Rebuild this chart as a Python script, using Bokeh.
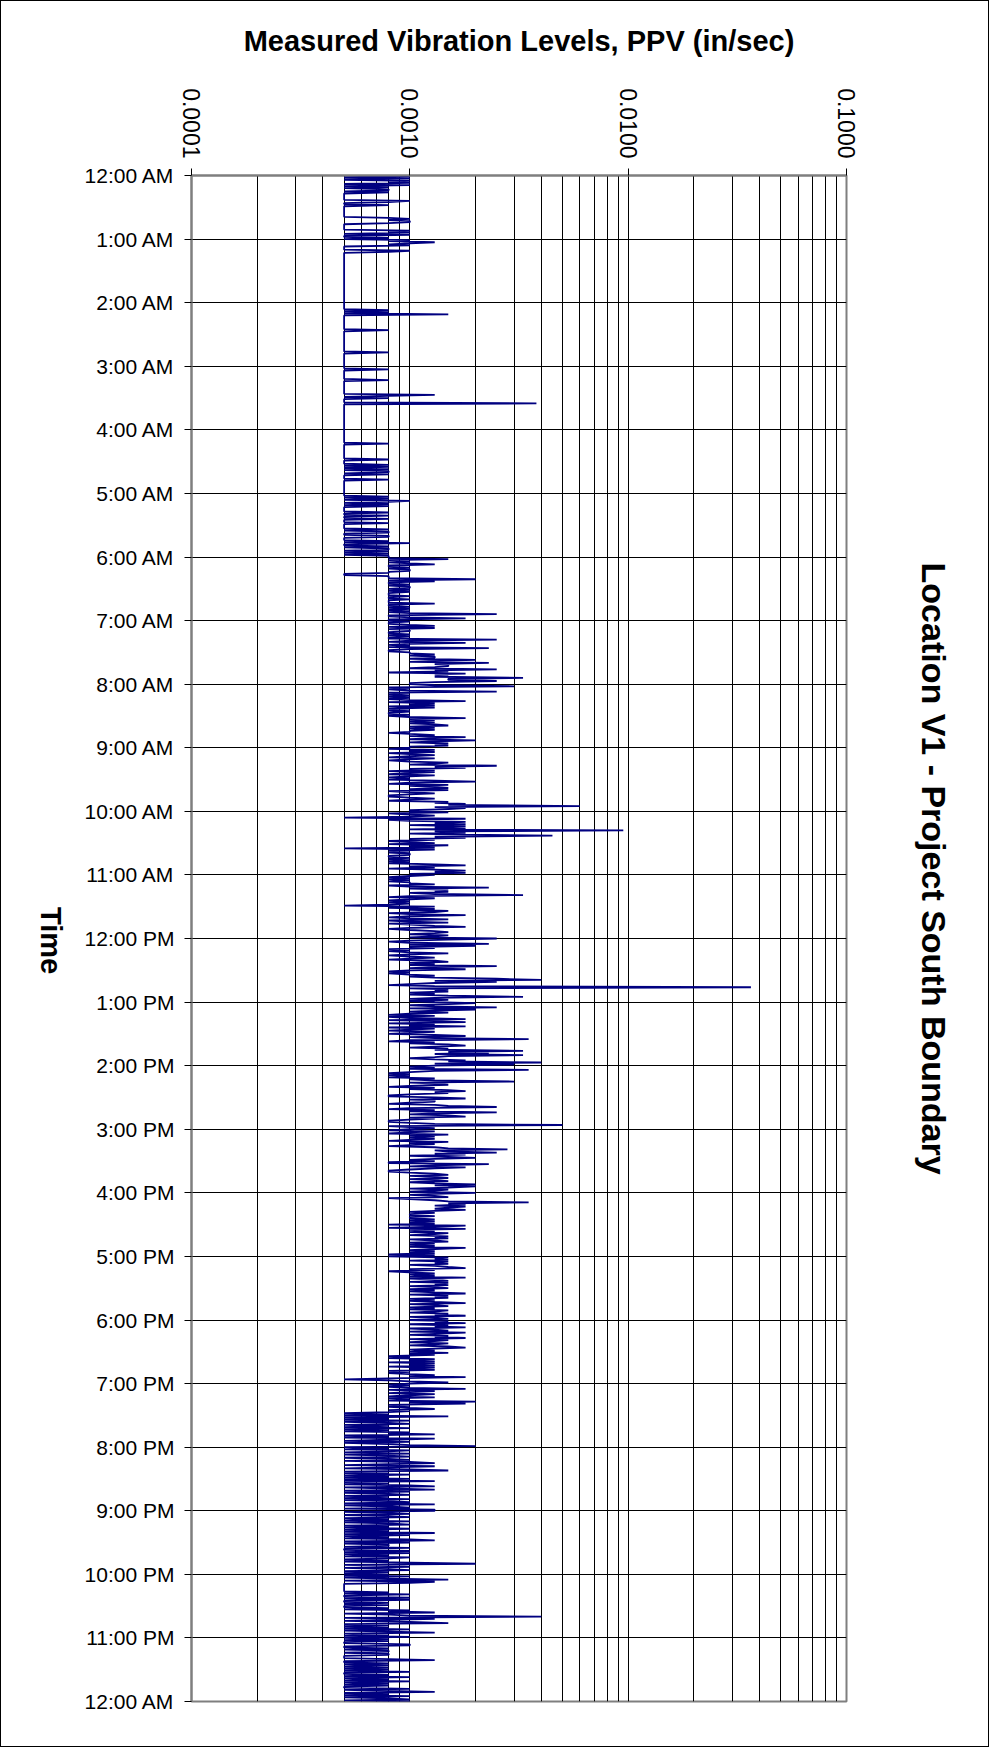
import math
import numpy as np
from bokeh.plotting import figure
from bokeh.layouts import row
from bokeh.models import Range1d, FixedTicker, NumeralTickFormatter, Label, ColumnDataSource, Grid
from bokeh.embed import file_html
from bokeh.resources import INLINE

# PPV readings, one per minute, in units of 0.0001 in/sec
h00 = [5,10,5,10,5,10,8,10,5,10,5,8,5,8,8,5,8,5,5,5,
       5,5,5,5,10,8,5,5,8,5,5,5,5,5,5,5,5,5,5,5,
       8,10,8,10,10,8,5,5,5,5,5,5,10,8,10,5,10,5,5,8]
h01 = [5,10,8,13,10,8,10,5,5,5,5,10,8,5,5,5,5,5,5,5,
       5,5,5,5,5,5,5,5,5,5,5,5,5,5,5,5,5,5,5,5,
       5,5,5,5,5,5,5,5,5,5,5,5,5,5,5,5,5,5,5,5]
h02 = [5,5,5,5,5,5,5,8,5,8,5,15,5,5,5,5,5,5,5,5,
       5,5,5,5,5,5,8,5,5,5,5,5,5,5,5,5,5,5,5,5,
       5,5,5,5,5,5,5,8,5,5,5,5,5,5,5,5,5,5,5,5]
h03 = [5,5,5,8,5,5,5,5,5,5,5,5,5,8,5,5,5,5,5,5,
       5,5,5,5,5,5,5,13,8,5,8,5,5,5,5,38,5,5,5,5,
       5,5,5,5,5,5,5,5,5,5,5,5,5,5,5,5,5,5,5,5]
h04 = [5,5,5,5,5,5,5,5,5,5,5,5,5,8,5,5,5,5,5,5,
       5,5,5,5,5,5,5,5,8,5,5,5,5,8,5,8,5,8,5,8,
       8,5,8,5,5,5,5,8,5,5,5,5,5,5,5,5,5,5,5,5]
h05 = [5,5,5,8,5,8,5,10,8,5,8,5,8,5,5,5,5,5,8,5,
       5,8,5,5,8,5,5,5,8,5,5,5,5,5,8,5,8,8,5,5,
       8,8,5,5,5,8,5,10,5,5,8,5,8,8,5,8,5,8,5,8]
h06 = [8,8,15,8,10,8,10,13,8,8,10,8,10,10,8,8,5,5,8,8,
       8,20,8,13,8,8,10,8,10,10,8,10,8,10,8,8,8,10,8,8,
       10,8,8,8,13,8,8,10,8,10,8,10,8,10,25,8,8,10,18,8]
h07 = [8,10,8,8,10,13,8,13,8,10,10,8,8,10,8,10,8,8,25,10,
       8,18,10,8,10,8,23,10,8,8,10,10,13,10,13,13,10,20,13,10,
       23,13,15,15,13,10,25,13,15,8,18,13,15,13,33,15,15,25,13,10]
h08 = [10,13,30,8,10,8,10,25,8,10,8,10,8,10,8,10,18,8,13,10,
       13,8,13,8,10,8,10,8,8,10,8,10,18,10,13,10,13,10,13,15,
       10,13,10,13,10,10,8,10,13,10,18,13,10,20,13,10,15,13,15,10]
h09 = [10,8,13,10,13,8,10,13,10,8,13,10,8,10,15,13,10,25,13,18,
       10,13,8,13,10,8,13,10,8,10,8,13,20,10,8,15,10,13,15,10,
       15,8,10,13,10,8,8,10,13,10,8,15,13,18,15,60,13,18,15,10]
h10 = [10,15,8,10,13,10,5,18,8,10,18,13,18,10,18,13,18,10,95,13,
       18,10,18,45,13,18,10,13,8,10,13,8,15,10,13,5,13,8,10,8,
       10,10,8,8,10,8,10,8,10,8,13,18,10,13,8,13,18,13,18,10]
h11 = [13,10,8,10,8,10,8,10,10,13,8,10,23,10,15,13,15,10,13,33,
       10,8,13,10,8,10,8,10,8,5,13,8,13,10,15,13,8,10,18,10,
       8,10,15,8,10,15,8,10,13,18,10,8,10,13,15,13,10,15,13,10]
h12 = [25,15,10,8,10,23,10,20,10,13,8,10,8,10,15,10,8,10,13,10,
       8,13,15,10,13,10,25,13,10,18,10,8,10,8,10,13,10,13,25,40,
       13,25,13,10,8,13,365,10,15,13,15,10,13,10,15,33,13,10,15,10]
h13 = [13,20,15,10,13,25,10,20,13,10,15,10,8,13,8,10,18,8,13,18,
       8,13,10,18,8,13,10,8,13,10,8,13,18,10,13,35,10,8,13,10,
       15,18,13,10,15,13,33,15,23,13,33,15,13,10,13,18,15,40,13,30]
h14 = [13,10,13,10,35,13,10,8,10,8,10,8,13,10,13,30,10,13,15,10,
       8,13,10,15,18,13,15,10,8,8,13,18,10,13,13,10,8,13,15,25,
       10,8,13,10,25,13,10,15,18,10,13,10,8,8,10,13,50,8,10,13]
h15 = [10,8,13,10,8,15,10,13,10,13,10,8,15,10,13,10,8,13,15,28,
       13,15,25,13,18,10,15,20,13,10,13,8,8,23,13,10,18,13,10,8,
       8,10,13,15,10,13,15,10,13,15,10,13,20,13,20,15,10,15,13,10]
h16 = [20,13,10,13,15,8,10,13,15,35,15,18,13,18,15,13,18,13,10,13,
       10,10,13,10,10,13,10,13,10,13,8,18,13,8,18,10,13,10,15,13,
       10,15,13,15,10,13,15,10,13,10,13,10,18,13,10,13,10,13,8,13]
h17 = [8,15,13,15,10,15,13,15,10,13,15,18,10,13,8,10,13,10,13,10,
       18,10,13,15,10,15,13,15,10,13,15,10,13,10,13,18,10,15,13,15,
       10,13,10,13,18,10,13,15,10,13,10,15,13,10,15,13,18,10,13,15]
h18 = [10,15,13,18,10,15,13,18,10,13,15,10,18,13,10,15,13,18,10,15,
       13,10,15,13,10,15,18,13,10,13,10,15,10,13,8,10,8,13,10,13,
       8,13,10,13,8,13,10,13,8,10,8,10,13,10,18,8,5,8,10,15]
h19 = [10,8,10,8,10,18,8,13,10,8,13,10,8,13,8,10,8,20,10,18,
       8,10,8,10,13,8,10,8,5,8,5,15,5,8,5,10,5,8,10,5,
       8,5,10,5,8,5,10,8,13,5,8,5,13,8,5,10,5,8,10,20]
h20 = [5,8,5,10,8,5,10,5,8,10,5,8,10,5,10,13,8,5,13,8,
       5,10,15,5,8,5,10,5,8,5,10,5,13,5,8,5,10,13,5,8,
       13,5,10,5,8,10,5,8,5,10,5,8,10,5,13,5,8,10,5,13]
h21 = [13,5,8,10,5,8,10,5,8,5,10,5,8,10,5,8,5,10,5,8,
       5,13,5,10,5,8,5,10,13,5,10,5,8,8,5,10,5,5,10,5,
       10,5,8,5,10,8,5,8,5,10,20,5,8,10,5,8,10,5,8,5]
h22 = [8,5,10,5,8,15,5,13,10,5,5,5,5,5,5,5,5,8,5,10,
       5,5,10,5,10,5,5,8,5,8,5,5,8,5,10,8,13,5,8,10,
       40,5,13,8,5,10,15,5,8,5,8,5,10,5,8,13,5,8,5,10]
h23 = [5,8,5,8,5,5,10,10,5,5,8,5,8,8,5,8,8,5,5,5,
       8,13,5,5,8,5,8,5,8,5,8,5,10,5,5,8,5,10,5,8,
       5,10,5,8,5,8,5,5,10,5,8,13,5,8,5,10,5,8,10,5]
midnight_end = [10]

time_tick_labels = ["12:00 AM", "1:00 AM", "2:00 AM", "3:00 AM", "4:00 AM", "5:00 AM",
                    "6:00 AM", "7:00 AM", "8:00 AM", "9:00 AM", "10:00 AM", "11:00 AM",
                    "12:00 PM", "1:00 PM", "2:00 PM", "3:00 PM", "4:00 PM", "5:00 PM",
                    "6:00 PM", "7:00 PM", "8:00 PM", "9:00 PM", "10:00 PM", "11:00 PM",
                    "12:00 AM"]
ppv_tick_values = [0.0001, 0.001, 0.01, 0.1]

x_title = "Measured Vibration Levels, PPV (in/sec)"
y_title = "Time"
chart_title = "Location V1 - Project South Boundary"

hours = [h00, h01, h02, h03, h04, h05, h06, h07, h08, h09, h10, h11,
         h12, h13, h14, h15, h16, h17, h18, h19, h20, h21, h22, h23]
readings = [v for h in hours for v in h] + midnight_end
ppv = np.array(readings, dtype=float) / 10000.0
minute = np.arange(len(ppv))
source = ColumnDataSource(data=dict(ppv=ppv, minute=minute))

FONT = "Liberation Sans"

# layout (pixels)
H = 1745
LEFT_W, RIGHT_W = 75, 122
FRAME_W, FRAME_H = 655, 1526
BL, BT, BR = 115, 174, 20
BB = H - BT - FRAME_H
MAIN_W = BL + FRAME_W + BR

span_min = 60 * (len(time_tick_labels) - 1)
x_lo, x_hi = ppv_tick_values[0], ppv_tick_values[-1]
time_range = Range1d(span_min, 0)

p = figure(width=MAIN_W, height=H, x_axis_type="log", x_axis_location="above",
           x_range=Range1d(x_lo, x_hi), y_range=time_range,
           output_backend="svg", toolbar_location=None, title=None,
           min_border_left=BL, min_border_right=BR, min_border_top=BT, min_border_bottom=BB,
           background_fill_color="white", border_fill_color="white")

minor_vals = [m * 10.0 ** e for e in range(round(math.log10(x_lo)), round(math.log10(x_hi)))
              for m in range(2, 10)]
xt = FixedTicker(ticks=ppv_tick_values, minor_ticks=minor_vals)
yt = FixedTicker(ticks=[60 * i for i in range(len(time_tick_labels))])

xa = p.xaxis[0]
xa.ticker = xt
xa.formatter = NumeralTickFormatter(format="0.0000")
xa.major_label_orientation = -math.pi / 2
xa.major_label_text_font = FONT
xa.major_label_text_font_size = "23px"
xa.major_label_text_color = "black"
xa.major_label_standoff = 10
xa.major_tick_in = 0
xa.major_tick_out = 7
xa.major_tick_line_color = "black"
xa.minor_tick_line_color = None
xa.axis_line_color = "#7f7f7f"
xa.axis_line_width = 2
xa.axis_label = x_title
xa.axis_label_text_font = FONT
xa.axis_label_text_font_style = "bold"
xa.axis_label_text_font_size = "29px"
xa.axis_label_text_color = "black"
xa.axis_label_standoff = 28

ya = p.yaxis[0]
ya.ticker = yt
ya.major_label_overrides = {60 * i: lab for i, lab in enumerate(time_tick_labels)}
ya.major_label_text_font = FONT
ya.major_label_text_font_size = "21px"
ya.major_label_text_color = "black"
ya.major_label_standoff = 10
ya.major_tick_in = 0
ya.major_tick_out = 7
ya.major_tick_line_color = "black"
ya.minor_tick_line_color = None
ya.axis_line_color = "#7f7f7f"
ya.axis_line_width = 2

p.xgrid[0].ticker = xt
p.xgrid[0].grid_line_color = "black"
p.xgrid[0].grid_line_width = 1
p.xgrid[0].minor_grid_line_color = "black"
p.xgrid[0].minor_grid_line_width = 1
p.ygrid[0].ticker = yt
p.ygrid[0].grid_line_color = "black"
p.ygrid[0].grid_line_width = 1

p.outline_line_color = "#7f7f7f"
p.outline_line_width = 2

p.line(x="ppv", y="minute", source=source, line_color="#000080", line_width=1.8)


def title_strip(width, text, cx, minute_center, size):
    """A plain strip sharing the time scale (same frame rows), holding a rotated title."""
    f = figure(width=width, height=H, x_range=Range1d(0, width), y_range=time_range,
               x_axis_location=None, y_axis_location=None,
               output_backend="svg", toolbar_location=None, title=None,
               min_border_left=0, min_border_right=0, min_border_top=BT, min_border_bottom=BB,
               background_fill_color="white", border_fill_color="white", outline_line_color=None)
    for g in f.select(type=Grid):
        g.visible = False
    f.add_layout(Label(x=cx, y=minute_center, text=text, angle=-math.pi / 2,
                       text_align="center", text_baseline="middle", text_font=FONT,
                       text_font_size=size, text_font_style="bold", text_color="black"))
    return f


left_strip = title_strip(LEFT_W, y_title, 49, 722, "29px")
right_strip = title_strip(RIGHT_W, chart_title, 67, 654, "34px")

layout = row(left_strip, p, right_strip, spacing=0)
layout.styles = {"border": "1px solid #000000"}

open("out.html", "w").write(file_html(layout, INLINE))
